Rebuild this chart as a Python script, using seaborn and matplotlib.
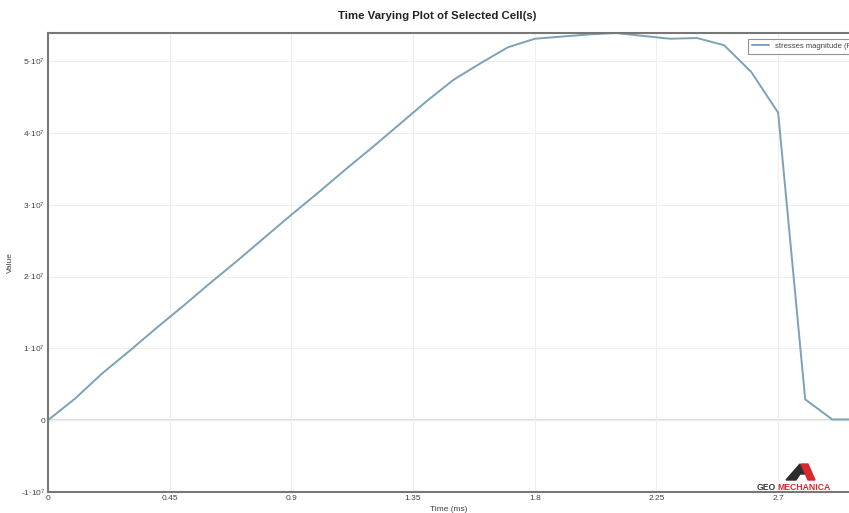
import numpy as np
import pandas as pd
import matplotlib
matplotlib.use("Agg")
import matplotlib.pyplot as plt
import seaborn as sns
from matplotlib.ticker import MultipleLocator, FixedLocator
from matplotlib.patches import Polygon

# ---- data ----
time_ms = [0.0, 0.1, 0.2, 0.3, 0.4, 0.5, 0.6, 0.7, 0.8, 0.9, 1.0,
           1.1, 1.2, 1.3, 1.4, 1.5, 1.6, 1.7, 1.8, 1.9, 2.0,
           2.1, 2.2, 2.3, 2.4, 2.5, 2.6, 2.7, 2.8, 2.9, 3.0]
stress = [0.0, 0.30e7, 0.65e7, 0.96e7, 1.28e7, 1.59e7, 1.91e7, 2.22e7, 2.54e7, 2.86e7, 3.17e7,
          3.49e7, 3.80e7, 4.12e7, 4.44e7, 4.74e7, 4.97e7, 5.19e7, 5.31e7, 5.34e7, 5.37e7,
          5.39e7, 5.35e7, 5.31e7, 5.32e7, 5.22e7, 4.85e7, 4.28e7, 0.29e7, 0.01e7, 0.01e7]
series_name = "stresses magnitude (Pa)"
x_ticks = [0, 0.45, 0.9, 1.35, 1.8, 2.25, 2.7]
x_tick_labels = ["0", "0.45", "0.9", "1.35", "1.8", "2.25", "2.7"]
y_ticks = [-1e7, 0, 1e7, 2e7, 3e7, 4e7, 5e7]
y_tick_labels = [r"-$1\!\cdot\!10^{7}$", "0", r"$1\!\cdot\!10^{7}$", r"$2\!\cdot\!10^{7}$",
                 r"$3\!\cdot\!10^{7}$", r"$4\!\cdot\!10^{7}$", r"$5\!\cdot\!10^{7}$"]

df = pd.DataFrame({"Time (ms)": time_ms, "Value": stress, "series": series_name})

sns.set_theme(style="white")
plt.rcParams["font.family"] = ["Liberation Sans", "DejaVu Sans"]
plt.rcParams["mathtext.fontset"] = "custom"
plt.rcParams["mathtext.rm"] = "Liberation Sans"
plt.rcParams["mathtext.it"] = "Liberation Sans"

fig = plt.figure(figsize=(8.49, 5.13), dpi=100)
ax = fig.add_axes([48 / 849, 1 - 492 / 513, 1 - 48 / 849, (492 - 33) / 513])

sns.lineplot(data=df, x="Time (ms)", y="Value", hue="series",
             palette=["#7ba2b6"], linewidth=1.4, ax=ax)

ax.set_xlim(0, 2.962)
ax.set_ylim(-1e7, 5.39e7)

ax.xaxis.set_major_locator(FixedLocator(x_ticks))
ax.set_xticklabels(x_tick_labels)
ax.xaxis.set_minor_locator(MultipleLocator(0.15))
ax.yaxis.set_major_locator(FixedLocator(y_ticks))
ax.set_yticklabels(y_tick_labels)
ax.yaxis.set_minor_locator(MultipleLocator(2e6))

ax.tick_params(which="both", direction="in", colors="#555555", labelcolor="#444444",
               labelsize=6, pad=2)
ax.tick_params(which="major", length=4, width=0.8)
ax.tick_params(which="minor", length=2.5, width=0.8)
ax.tick_params(axis="both", which="both", top=False, right=False)

ax.grid(True, which="major", color="#eeeeee", linewidth=0.8)
ax.axhline(0, color="#dddddd", linewidth=1.6, zorder=0.5)

for side in ["left", "bottom", "top"]:
    ax.spines[side].set_color("#777777")
    ax.spines[side].set_linewidth(1.5)
ax.spines["right"].set_visible(False)

ax.set_xlabel("Time (ms)", fontsize=6, color="#444444", labelpad=3)
ax.set_ylabel("Value", fontsize=6, color="#444444", labelpad=5)

fig.text(437 / 849, 1 - 16 / 513, "Time Varying Plot of Selected Cell(s)",
         ha="center", va="center", fontsize=8.2, fontweight="bold", color="#222222")

leg = ax.legend(loc="upper left", bbox_to_anchor=((748 - 48) / 801, (492 - 39) / 459),
                fontsize=5.5, frameon=True, fancybox=False, borderpad=0.5,
                handlelength=2.2, borderaxespad=0)
leg.get_frame().set_edgecolor("#777777")
leg.get_frame().set_linewidth(0.8)
for t in leg.get_texts():
    t.set_color("#444444")

# GEOMECHANICA logo (decoration)
fig.text(757 / 849, 1 - 487 / 513, "GEO", fontsize=6.2, fontweight="bold",
         color="#3a3a3a", ha="left", va="center")
fig.text(777 / 849, 1 - 487 / 513, "MECHANICA", fontsize=6.2, fontweight="bold",
         color="#d9282f", ha="left", va="center")
dark = Polygon([[786, 480], [800, 464], [806, 474], [800, 474], [796, 480]],
               closed=True, transform=None, color="#2c2c2c")
red = Polygon([[801, 464], [808, 464], [815, 480], [808, 480]],
              closed=True, transform=None, color="#d9282f")
for p in (dark, red):
    verts = p.get_xy()
    verts[:, 1] = 513 - verts[:, 1]
    p.set_xy(verts)
    fig.patches.append(p)

fig.savefig("out.png", dpi=100)
